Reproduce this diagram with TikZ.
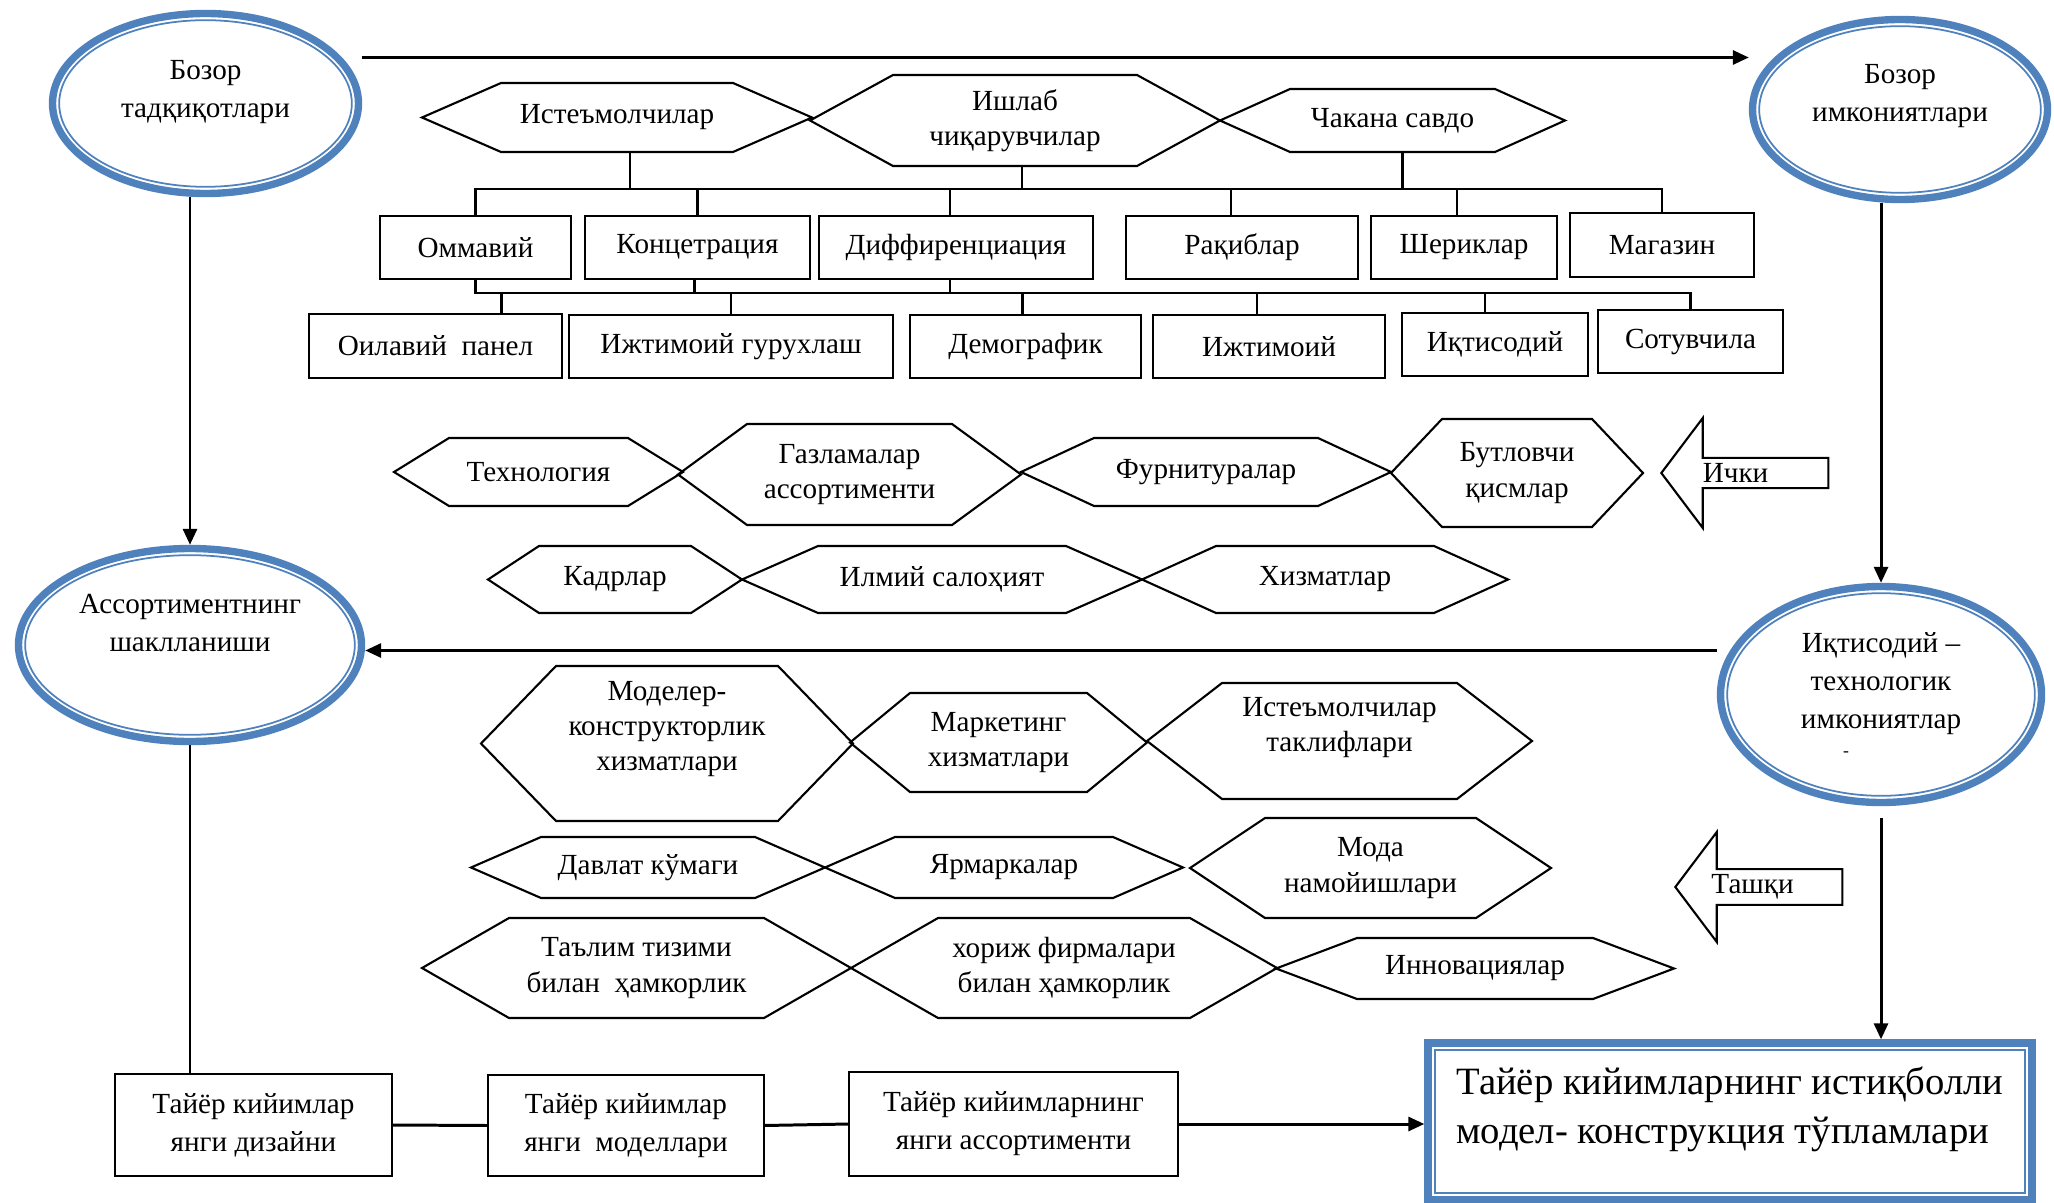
\documentclass[tikz,border=0pt]{standalone}
\usepackage{fontspec}
\setmainfont{Liberation Serif}
\usepackage{tikz}
\usepackage{xcolor}
\usetikzlibrary{shapes.geometric, shapes.arrows, arrows.meta, calc}
\definecolor{ovalblue}{RGB}{79,129,189}
\tikzstyle{blue oval}=[
        ellipse,
        draw = ovalblue,
        line width = 2.1pt,
        align = center,
        inner sep = 0pt,
        font = \fontsize{8.3}{10.8}\selectfont,
        path picture = {\draw[ovalblue, line width = 0.5pt]
            let \p1 = (path picture bounding box.north east),
                \p2 = (path picture bounding box.center) in
            (\p2) ellipse [x radius = \x1-\x2-1.9pt, y radius = \y1-\y2-1.9pt];}
    ]
\tikzstyle{blue frame}=[
        draw = ovalblue,
        line width = 2.1pt,
        align = left,
        inner sep = 0pt,
        font = \fontsize{11}{14}\selectfont,
        path picture = {\draw[ovalblue, line width = 0.5pt]
            ([shift={(1.9pt,1.9pt)}]path picture bounding box.south west) rectangle
            ([shift={(-1.9pt,-1.9pt)}]path picture bounding box.north east);}
    ]
\tikzstyle{plain box}=[
        draw,
        line width = 0.6pt,
        align = center,
        inner sep = 0pt,
        outer sep = 0pt
    ]
\tikzstyle{chain box}=[
        plain box,
        font = \fontsize{8.3}{10.8}\selectfont
    ]
\tikzstyle{hex box}=[
        align = center,
        inner sep = 0pt,
        outer sep = 0pt
    ]
\tikzstyle{block arrow}=[
        draw,
        line width = 0.6pt,
        single arrow,
        shape border rotate = 180,
        single arrow head extend = 2.8mm,
        single arrow tip angle = 106,
        minimum height = 16.7mm,
        minimum width = 11mm,
        inner sep = 0pt,
        anchor = tip
    ]
\tikzstyle{main arrow}=[
        line width = 0.85pt,
        -{Triangle[length = 1.6mm, width = 1.4mm]}
    ]
\tikzstyle{tree line}=[line width = 0.6pt]
\tikzset{dims/.style 2 args = {minimum width = #1, minimum height = #2}}

\begin{document}
\begin{tikzpicture}[x = 0.1mm, y = -0.1mm, font = \fontsize{8.3}{10}\selectfont]
        \useasboundingbox (0,0) rectangle (2054,1203);

        % ovals
        \node[blue oval, dims={30.6mm}{18mm}, text depth=3mm] (e1) at (205.5,103.5) {Бозор\\тадқиқотлари};
        \node[blue oval, dims={29.5mm}{18mm}, text depth=3.4mm] (e2) at (1900,109.5) {Бозор\\имкониятлари};
        \node[blue oval, dims={34.3mm}{19.3mm}, text depth=4.5mm] (e3) at (190,645) {Ассортиментнинг\\шаклланиши};
        \node[blue oval, dims={32.1mm}{21.6mm}] (e4) at (1881,694.5) {Иқтисодий –\\технологик\\имкониятлар\\[-3pt]{\tiny -}\hspace*{7mm}};

        % top hexagons
        \node[hex box, dims={39mm}{6.9mm}] (h1) at (617,117.5) {Истеъмолчилар};
        \node[hex box, dims={41mm}{9.1mm}] (h2) at (1015,120.5) {Ишлаб\\чиқарувчилар};
        \node[hex box, dims={34.5mm}{6.3mm}] (h3) at (1392.5,120.5) {Чакана савдо};

        % segment boxes
        \node[plain box, dims={19.1mm}{6.3mm}] (b1) at (475.5,247.5) {Оммавий};
        \node[plain box, dims={22.5mm}{6.3mm}] (b2) at (697.5,247.5) {Концетрация};
        \node[plain box, dims={27.4mm}{6.3mm}] (b3) at (956,247.5) {Диффиренциация};
        \node[plain box, dims={23.2mm}{6.3mm}] (b4) at (1242,247.5) {Рақиблар};
        \node[plain box, dims={18.6mm}{6.3mm}] (b5) at (1464,247.5) {Шериклар};
        \node[plain box, dims={18.4mm}{6.4mm}] (b6) at (1662,245) {Магазин};

        \node[plain box, dims={25.3mm}{6.4mm}] (c1) at (435.5,346) {Оилавий~ панел};
        \node[plain box, dims={32.4mm}{6.3mm}] (c2) at (731,346.5) {Ижтимоий гурухлаш};
        \node[plain box, dims={23.1mm}{6.3mm}] (c3) at (1025.5,346.5) {Демографик};
        \node[plain box, dims={23.2mm}{6.3mm}] (c4) at (1269,346.5) {Ижтимоий};
        \node[plain box, dims={18.6mm}{6.3mm}] (c5) at (1495,344.5) {Иқтисодий};
        \node[plain box, dims={18.5mm}{6.3mm}] (c6) at (1690.5,341.5) {Сотувчила};

        % inner factors
        \node[hex box, dims={28.9mm}{6.8mm}] (m1) at (538.5,472) {Технология};
        \node[hex box, dims={34.3mm}{10.1mm}] (m2) at (849.5,474.5) {Газламалар\\ассортименти};
        \node[hex box, dims={37mm}{6.8mm}] (m3) at (1206,472) {Фурнитуралар};
        \node[hex box, dims={25.2mm}{10.8mm}] (m4) at (1517,473) {Бутловчи\\қисмлар};
        \node[block arrow] (a1) at (1660,473) {Ички\hspace*{3mm}};

        \node[hex box, dims={25.4mm}{6.7mm}] (n1) at (615,579.5) {Кадрлар};
        \node[hex box, dims={40mm}{6.7mm}] (n2) at (942,579.5) {Илмий салоҳият};
        \node[hex box, dims={36.6mm}{6.7mm}] (n3) at (1325,579.5) {Хизматлар};

        % outer factors
        \node[hex box, dims={37.2mm}{15.5mm}, text depth=3.5mm] (p1) at (667,743.5) {Моделер-\\конструкторлик\\хизматлари};
        \node[hex box, dims={29.7mm}{9.9mm}] (p2) at (998.5,742.5) {Маркетинг\\хизматлари};
        \node[hex box, dims={38.5mm}{11.6mm}, text depth=3.3mm] (p3) at (1339.5,741) {Истеъмолчилар\\таклифлари};

        \node[hex box, dims={35.4mm}{6.1mm}] (q1) at (648,867.5) {Давлат кўмаги};
        \node[hex box, dims={35.8mm}{6.1mm}] (q2) at (1004,867.5) {Ярмаркалар};
        \node[hex box, dims={36.1mm}{10mm}] (q3) at (1370.5,868) {Мода\\намойишлари};
        \node[block arrow] (a2) at (1674,887) {Ташқи\hspace*{2.6mm}};

        \node[hex box, dims={42.9mm}{10mm}] (r1) at (636.5,968) {Таълим тизими\\билан~ ҳамкорлик};
        \node[hex box, dims={42.6mm}{10mm}] (r2) at (1064,968) {хориж фирмалари\\билан ҳамкорлик};
        \node[hex box, dims={39.8mm}{6.1mm}] (r3) at (1475,968.5) {Инновациялар};

        % results
        \node[chain box, dims={27.7mm}{10.2mm}] (d1) at (253.5,1125) {Тайёр кийимлар\\янги дизайни};
        \node[chain box, dims={27.6mm}{10.1mm}] (d2) at (626,1125.5) {Тайёр кийимлар\\янги~ моделлари};
        \node[chain box, dims={32.9mm}{10.4mm}] (d3) at (1013.5,1124) {Тайёр кийимларнинг\\янги ассортименти};
        \node[blue frame, dims={60.4mm}{15.7mm}, text depth=3.3mm] (fin) at (1730,1121.5) {Тайёр кийимларнинг истиқболли\\модел- конструкция тўпламлари};

        % hexagon outlines
        \foreach \n/\d in {h1/7.9, h2/8.3, h3/7, m1/5.5, m2/6.9, m3/7.3, m4/5.1, n1/5.1, n2/7.6, n3/7.4,
                p1/7.5, p2/6, p3/7.5, q1/7, q2/7, q3/7.5, r1/8.7, r2/8.7, r3/8.1}
            \draw[tree line] (\n.west) -- ([xshift=\d mm]\n.north west) -- ([xshift=-\d mm]\n.north east)
                -- (\n.east) -- ([xshift=-\d mm]\n.south east) -- ([xshift=\d mm]\n.south west) -- cycle;

        % tree
        \coordinate (bus1) at (0,189);
        \coordinate (bus2) at (0,293);
        \draw[tree line] (b1.north) |- (bus1 -| b6.north) -- (b6.north);
        \foreach \n/\s in {h1/1.3, h2/0.7, h3/1}
            \draw[tree line] ([xshift=\s mm]\n.south) -- ([xshift=\s mm]\n.south |- bus1);
        \foreach \n/\s in {b2/0, b3/-0.6, b4/-1.1, b5/-0.7}
            \draw[tree line] ([xshift=\s mm]\n.north) -- ([xshift=\s mm]\n.north |- bus1);
        \draw[tree line] (b1.south) |- (bus2 -| c6.north) -- (c6.north);
        \foreach \n/\s in {b2/-0.3, b3/-0.6}
            \draw[tree line] ([xshift=\s mm]\n.south) -- ([xshift=\s mm]\n.south |- bus2);
        \foreach \n/\s in {c1/6.6, c2/0, c3/-0.3, c4/-1.2, c5/-1}
            \draw[tree line] ([xshift=\s mm]\n.north) -- ([xshift=\s mm]\n.north |- bus2);

        % main flow
        \draw[main arrow] ([yshift=4.6mm]e1.east) -- ([yshift=5.2mm]e2.west);
        \draw[main arrow] (e3.north |- e1.south) -- (e3.north);
        \draw[main arrow] (e4.north |- e2.south) -- (e4.north);
        \draw[main arrow] ([yshift=4.4mm]e4.west) -- ([yshift=4.4mm]e4.west -| e3.east);
        \draw[tree line] (e3.south) -- (e3.south |- d1.north);
        \draw[main arrow] ([yshift=-1.2mm]e4.south) -- (e4.south |- fin.north);
        \draw[line width = 0.85pt] (d1.east) -- (d2.west);
        \draw[line width = 0.85pt] (d2.east) -- (d3.west);
        \draw[main arrow] (d3.east) -- (d3.east -| fin.west);

    \end{tikzpicture}
\end{document}
